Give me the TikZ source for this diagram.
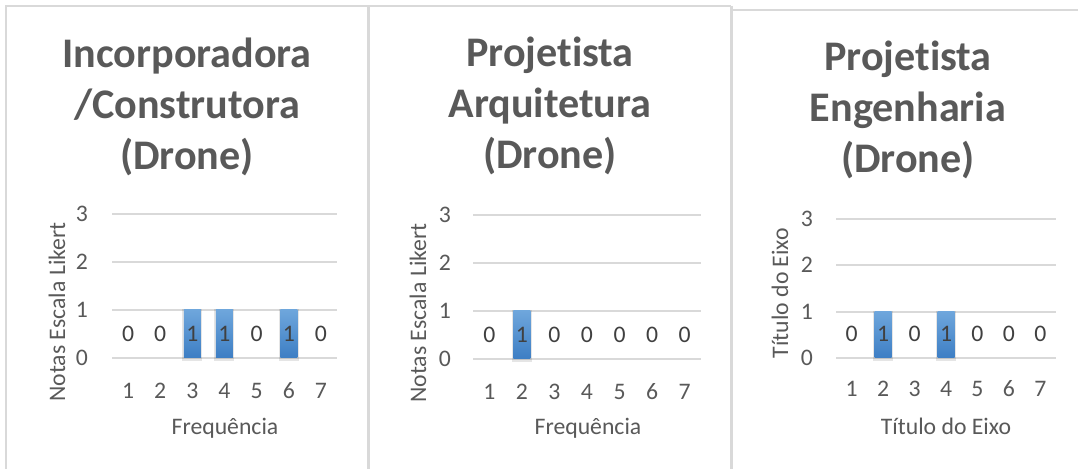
\documentclass[tikz,border=0pt]{standalone}
\usepackage{fontspec}
\setmainfont{Carlito}[Ligatures={NoCommon,NoContextual}]
\definecolor{txt}{HTML}{595959}
\definecolor{valtxt}{HTML}{404040}
\definecolor{gridc}{HTML}{D9D9D9}
\definecolor{framec}{HTML}{D9D9D9}
\definecolor{bartop}{HTML}{6EA6DC}
\definecolor{barbot}{HTML}{3D7EC4}
\tikzset{
  ttl/.style={text=txt, font=\fontsize{42.3}{51.5}\selectfont\bfseries, align=center, inner sep=0pt},
  lbl/.style={text=txt, font=\fontsize{23.8}{27}\selectfont, inner sep=0pt},
  val/.style={text=valtxt, font=\fontsize{23.8}{27}\selectfont, inner sep=0pt},
  gridline/.style={draw=gridc, line width=2bp},
  framel/.style={draw=framec, line width=1.6bp},
  framew/.style={draw=framec, line width=3bp},
  barfill/.style={top color=bartop, bottom color=barbot, draw=none},
  barshadow/.style={fill=black, opacity=0.10, draw=none},
}
\begin{document}
\begin{tikzpicture}[x=1bp,y=-1bp]
\useasboundingbox (0,0) rectangle (1078,469);
\fill[white] (0,0) rectangle (1078,469);
% frames
\coordinate (f1a) at (6,469);
\coordinate (f1b) at (6,6);
\coordinate (f1c) at (368,6);
\coordinate (f1d) at (368,469);
\coordinate (f2c) at (731,6);
\coordinate (f2d) at (731,469);
\coordinate (f3a) at (731,10);
\coordinate (f3b) at (1078,10);
\draw[framel] (f1a) -- (f1b) -- (f1c);
\draw[framel] (f1c) -- (f2c);
\draw[framew] (f1c) -- (f1d);
\draw[framew] (f2c) -- (f2d);
\draw[framel] (f3a) -- (f3b);

% ---------------- Panel 1 ----------------
\node[ttl] (t1) at (187,107) {Incorporadora\\/Construtora\\(Drone)};
\foreach \v/\yy in {0/358,1/310,2/262,3/214}{
  \coordinate (g1l\v) at (112,\yy);
  \coordinate (g1r\v) at (337,\yy);
  \draw[gridline] (g1l\v) -- (g1r\v);
  \node[lbl] (y1\v) at (82,\yy) {\v};
}
\foreach \i/\val in {1/0,2/0,3/1,4/1,5/0,6/1,7/0}{
  \pgfmathsetmacro{\cx}{112+(\i-0.5)*32.14}
  \ifnum\val=1
    \fill[barshadow] (\cx-10,309) rectangle (\cx+10,361);
    \shade[barfill] (\cx-8.5,310) rectangle (\cx+8.5,358);
  \fi
  \node[val] (v1\i) at (\cx,334) {\val};
  \node[lbl] (x1\i) at (\cx,391) {\i};
}
\node[lbl, rotate=90] (ya1) at (57,312) {Notas Escala Likert};
\node[lbl] (xa1) at (225,428) {Frequência};

% ---------------- Panel 2 ----------------
\node[ttl] (t2) at (550,106) {Projet\kern0pt ista\\Arquitetura\\(Drone)};
\foreach \v/\yy in {0/359,1/311,2/263,3/215}{
  \coordinate (g2l\v) at (473,\yy);
  \coordinate (g2r\v) at (701,\yy);
  \draw[gridline] (g2l\v) -- (g2r\v);
  \node[lbl] (y2\v) at (445,\yy) {\v};
}
\foreach \i/\val in {1/0,2/1,3/0,4/0,5/0,6/0,7/0}{
  \pgfmathsetmacro{\cx}{473+(\i-0.5)*32.57}
  \ifnum\val=1
    \fill[barshadow] (\cx-10,310) rectangle (\cx+10,362);
    \shade[barfill] (\cx-8.5,311) rectangle (\cx+8.5,359);
  \fi
  \node[val] (v2\i) at (\cx,335) {\val};
  \node[lbl] (x2\i) at (\cx,392) {\i};
}
\node[lbl, rotate=90] (ya2) at (418,313) {Notas Escala Likert};
\node[lbl] (xa2) at (588,428) {Frequência};

% ---------------- Panel 3 ----------------
\node[ttl] (t3) at (908,110) {Projet\kern0pt ista\\Engenharia\\(Drone)};
\foreach \v/\yy in {0/358,1/312,2/265,3/219}{
  \coordinate (g3l\v) at (836,\yy);
  \coordinate (g3r\v) at (1056,\yy);
  \draw[gridline] (g3l\v) -- (g3r\v);
  \node[lbl] (y3\v) at (807,\yy) {\v};
}
\foreach \i/\val in {1/0,2/1,3/0,4/1,5/0,6/0,7/0}{
  \pgfmathsetmacro{\cx}{836+(\i-0.5)*31.43}
  \ifnum\val=1
    \fill[barshadow] (\cx-10,311) rectangle (\cx+10,361);
    \shade[barfill] (\cx-8.5,312) rectangle (\cx+8.5,358);
  \fi
  \node[val] (v3\i) at (\cx,334) {\val};
  \node[lbl] (x3\i) at (\cx,389) {\i};
}
\node[lbl, rotate=90] (ya3) at (780,293) {Título do Eixo};
\node[lbl] (xa3) at (946,426) {Título do Eixo};
\end{tikzpicture}
\end{document}
